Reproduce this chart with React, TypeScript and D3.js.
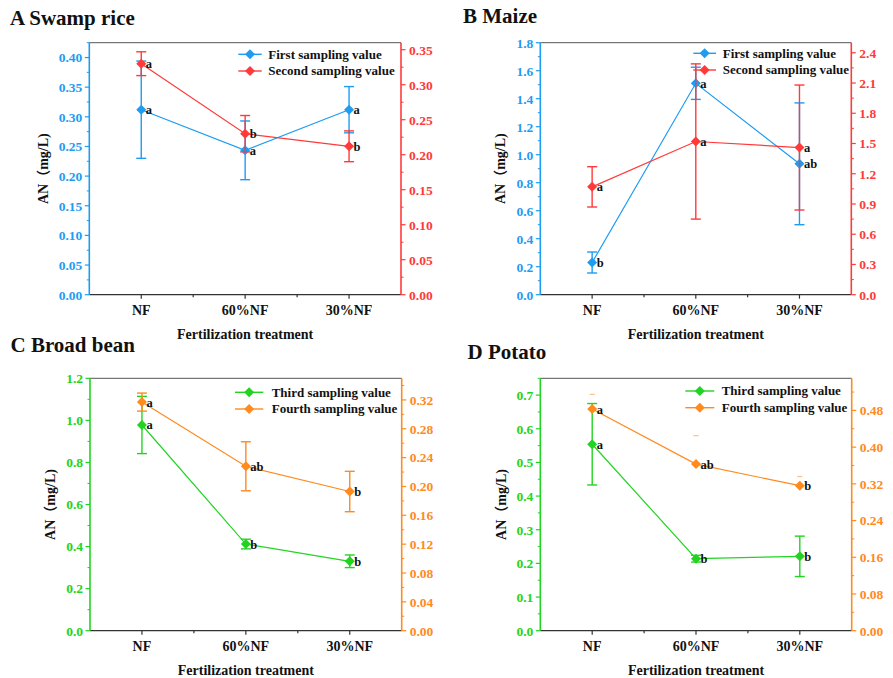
import React from "react";
import * as d3 from "d3";

// Treatments on the x axis
const categories = ["NF", "60%NF", "30%NF"];

// A Swamp rice
const riceFirst = [0.312, 0.2435, 0.312];
const riceFirstErr = [0.082, 0.0495, 0.039];
const riceFirstSig = ["a", "a", "a"];
const riceSecond = [0.33, 0.23, 0.212];
const riceSecondErr = [0.017, 0.026, 0.022];
const riceSecondSig = ["a", "b", "b"];
const riceLeftTicks = [0, 0.05, 0.1, 0.15, 0.2, 0.25, 0.3, 0.35, 0.4];
const riceRightTicks = [0, 0.05, 0.1, 0.15, 0.2, 0.25, 0.3, 0.35];

// B Maize
const maizeFirst = [0.23, 1.51, 0.935];
const maizeFirstErr = [0.075, 0.115, 0.435];
const maizeFirstSig = ["b", "a", "ab"];
const maizeSecond = [1.07, 1.52, 1.46];
const maizeSecondErr = [0.2, 0.77, 0.62];
const maizeSecondSig = ["a", "a", "a"];
const maizeLeftTicks = [0, 0.2, 0.4, 0.6, 0.8, 1.0, 1.2, 1.4, 1.6, 1.8];
const maizeRightTicks = [0, 0.3, 0.6, 0.9, 1.2, 1.5, 1.8, 2.1, 2.4];

// C Broad bean
const beanThird = [0.978, 0.412, 0.33];
const beanThirdErr = [0.136, 0.023, 0.03];
const beanThirdSig = ["a", "b", "b"];
const beanFourth = [0.317, 0.228, 0.193];
const beanFourthErr = [0.0125, 0.034, 0.028];
const beanFourthSig = ["a", "ab", "b"];
const beanLeftTicks = [0, 0.2, 0.4, 0.6, 0.8, 1.0, 1.2];
const beanRightTicks = [0, 0.04, 0.08, 0.12, 0.16, 0.2, 0.24, 0.28, 0.32];

// D Potato
const potatoThird = [0.554, 0.214, 0.221];
const potatoThirdErr = [0.121, 0.01, 0.06];
const potatoThirdSig = ["a", "b", "b"];
const potatoFourth = [0.483, 0.363, 0.316];
const potatoFourthErr = [0.032, 0.062, 0.02];
const potatoFourthSig = ["a", "ab", "b"];
const potatoLeftTicks = [0, 0.1, 0.2, 0.3, 0.4, 0.5, 0.6, 0.7];
const potatoRightTicks = [0, 0.08, 0.16, 0.24, 0.32, 0.4, 0.48];

const FONT = "Liberation Serif, Tinos, Times New Roman, DejaVu Serif, serif";
const CJK = "Noto Sans CJK SC, Noto Sans CJK JP, sans-serif";
const BLUE = "#1E9CF2";
const RED = "#FF3A3A";
const GREEN = "#22D422";
const ORANGE = "#FF8A1E";

type Series = {
  name: string;
  values: number[];
  errs: number[];
  sig: string[];
  color: string;
  axis: "left" | "right";
  capOnly?: boolean;
};

type PanelCfg = {
  title: string;
  titleX: number;
  titleY: number;
  box: { left: number; right: number; top: number; bottom: number };
  leftDomain: number;
  rightDomain: number;
  leftTicks: number[];
  rightTicks: number[];
  leftFmt: string;
  rightFmt: string;
  leftColor: string;
  rightColor: string;
  yLabelX: number;
  legend: { lineX0: number; lineX1: number; textX: number; y0: number; y1: number };
  series: Series[];
};

const diamond = (x: number, y: number, r: number) =>
  `M${x},${y - r}L${x + r},${y}L${x},${y + r}L${x - r},${y}Z`;

function minorTicks(ticks: number[], domainMax: number) {
  const step = ticks[1] - ticks[0];
  const out: number[] = [];
  for (let v = step / 2; v <= domainMax + 1e-9; v += step) {
    const isMajor = ticks.some((t) => Math.abs(t - v) < 1e-9);
    if (!isMajor) out.push(v);
  }
  return out;
}

function Panel({ cfg }: { cfg: PanelCfg }) {
  const { box } = cfg;
  const x = d3.scalePoint<string>().domain(categories).range([box.left, box.right]).padding(0.5);
  const yL = d3.scaleLinear().domain([0, cfg.leftDomain]).range([box.bottom, box.top]);
  const yR = d3.scaleLinear().domain([0, cfg.rightDomain]).range([box.bottom, box.top]);
  const fL = d3.format(cfg.leftFmt);
  const fR = d3.format(cfg.rightFmt);
  const step = x.step();
  const xMinor = categories.slice(0, -1).map((c) => (x(c) as number) + step / 2);
  const cx = (box.left + box.right) / 2;
  const cy = (box.top + box.bottom) / 2;

  const seriesEls = cfg.series.map((s, si) => {
    const y = s.axis === "left" ? yL : yR;
    const pts = s.values.map((v, i) => [x(categories[i]) as number, y(v)] as [number, number]);
    const line = d3.line()(pts) as string;
    return (
      <g key={si}>
        {s.values.map((v, i) => {
          const px = x(categories[i]) as number;
          const hi = y(v + s.errs[i]);
          const lo = y(v - s.errs[i]);
          if (s.capOnly) {
            return (
              <line key={i} x1={px - 2.5} x2={px + 2.5} y1={hi} y2={hi} stroke={s.color} strokeOpacity={0.55} strokeWidth={1.2} />
            );
          }
          return (
            <g key={i} stroke={s.color} strokeWidth={1.4}>
              <line x1={px} x2={px} y1={hi} y2={lo} />
              <line x1={px - 5} x2={px + 5} y1={hi} y2={hi} />
              <line x1={px - 5} x2={px + 5} y1={lo} y2={lo} />
            </g>
          );
        })}
        <path d={line} fill="none" stroke={s.color} strokeWidth={1.2} />
        {pts.map((p, i) => (
          <path key={i} d={diamond(p[0], p[1], 5)} fill={s.color} />
        ))}
      </g>
    );
  });

  const sigEls = cfg.series.map((s, si) => {
    const y = s.axis === "left" ? yL : yR;
    return s.values.map((v, i) => (
      <text
        key={`${si}-${i}`}
        x={(x(categories[i]) as number) + 4.5}
        y={y(v) + 4.5}
        style={{ fontFamily: FONT }}
        fontWeight="bold"
        fontSize={12.5}
        fill="#111"
      >
        {s.sig[i]}
      </text>
    ));
  });

  const legendRows = [cfg.legend.y0, cfg.legend.y1];

  return (
    <g>
      <text x={cfg.titleX} y={cfg.titleY} style={{ fontFamily: FONT }} fontWeight="bold" fontSize={21} fill="#111">
        {cfg.title}
      </text>

      {/* frame */}
      <line x1={box.left} x2={box.right} y1={box.top} y2={box.top} stroke="#555" strokeWidth={1} />
      <line x1={box.left} x2={box.right} y1={box.bottom} y2={box.bottom} stroke="#333" strokeWidth={1.3} />

      {/* bottom axis */}
      {categories.map((c) => (
        <g key={c}>
          <line x1={x(c)} x2={x(c)} y1={box.bottom} y2={box.bottom + 4} stroke="#333" strokeWidth={1.2} />
          <text x={x(c)} y={box.bottom + 20} textAnchor="middle" style={{ fontFamily: FONT }} fontWeight="bold" fontSize={14} fill="#111">
            {c}
          </text>
        </g>
      ))}
      {xMinor.map((mx, i) => (
        <line key={i} x1={mx} x2={mx} y1={box.bottom} y2={box.bottom + 2.5} stroke="#333" strokeWidth={1.2} />
      ))}
      <text x={cx} y={box.bottom + 44} textAnchor="middle" style={{ fontFamily: FONT }} fontWeight="bold" fontSize={14} fill="#111">
        Fertilization treatment
      </text>

      {/* left axis */}
      <line x1={box.left} x2={box.left} y1={box.top} y2={box.bottom} stroke={cfg.leftColor} strokeWidth={1.6} />
      {cfg.leftTicks.map((t) => (
        <g key={t}>
          <line x1={box.left - 4.5} x2={box.left} y1={yL(t)} y2={yL(t)} stroke={cfg.leftColor} strokeWidth={1.2} />
          <text x={box.left - 7} y={yL(t)} dy="0.36em" textAnchor="end" style={{ fontFamily: FONT }} fontWeight="bold" fontSize={13.5} fill={cfg.leftColor}>
            {fL(t)}
          </text>
        </g>
      ))}
      {minorTicks(cfg.leftTicks, cfg.leftDomain).map((t, i) => (
        <line key={i} x1={box.left - 2.5} x2={box.left} y1={yL(t)} y2={yL(t)} stroke={cfg.leftColor} strokeWidth={1} />
      ))}

      {/* right axis */}
      <line x1={box.right} x2={box.right} y1={box.top} y2={box.bottom} stroke={cfg.rightColor} strokeWidth={1.6} />
      {cfg.rightTicks.map((t) => (
        <g key={t}>
          <line x1={box.right} x2={box.right + 4.5} y1={yR(t)} y2={yR(t)} stroke={cfg.rightColor} strokeWidth={1.2} />
          <text x={box.right + 8} y={yR(t)} dy="0.36em" textAnchor="start" style={{ fontFamily: FONT }} fontWeight="bold" fontSize={13.5} fill={cfg.rightColor}>
            {fR(t)}
          </text>
        </g>
      ))}
      {minorTicks(cfg.rightTicks, cfg.rightDomain).map((t, i) => (
        <line key={i} x1={box.right} x2={box.right + 2.5} y1={yR(t)} y2={yR(t)} stroke={cfg.rightColor} strokeWidth={1} />
      ))}

      {/* y axis title */}
      <text
        transform={`translate(${cfg.yLabelX},${cy}) rotate(-90)`}
        textAnchor="middle"
        style={{ fontFamily: FONT }}
        fontWeight="bold"
        fontSize={14}
        fill="#111"
      >
        AN<tspan style={{ fontFamily: CJK }}>（</tspan>mg/L)
      </text>

      {seriesEls}
      {sigEls}

      {/* legend */}
      {cfg.series.map((s, i) => {
        const ly = legendRows[i];
        const mx = (cfg.legend.lineX0 + cfg.legend.lineX1) / 2;
        return (
          <g key={i}>
            <line x1={cfg.legend.lineX0} x2={cfg.legend.lineX1} y1={ly} y2={ly} stroke={s.color} strokeWidth={1.4} />
            <path d={diamond(mx, ly, 5)} fill={s.color} />
            <text x={cfg.legend.textX} y={ly} dy="0.33em" style={{ fontFamily: FONT }} fontWeight="bold" fontSize={13} fill="#111">
              {s.name}
            </text>
          </g>
        );
      })}
    </g>
  );
}

const panels: PanelCfg[] = [
  {
    title: "A Swamp rice",
    titleX: 10,
    titleY: 25,
    box: { left: 89.3, right: 401, top: 42.7, bottom: 294.7 },
    leftDomain: 0.425,
    rightDomain: 0.36,
    leftTicks: riceLeftTicks,
    rightTicks: riceRightTicks,
    leftFmt: ".2f",
    rightFmt: ".2f",
    leftColor: BLUE,
    rightColor: RED,
    yLabelX: 47.5,
    legend: { lineX0: 238.3, lineX1: 261.7, textX: 268.3, y0: 54.3, y1: 71 },
    series: [
      { name: "First sampling value", values: riceFirst, errs: riceFirstErr, sig: riceFirstSig, color: BLUE, axis: "left" },
      { name: "Second sampling value", values: riceSecond, errs: riceSecondErr, sig: riceSecondSig, color: RED, axis: "right" },
    ],
  },
  {
    title: "B Maize",
    titleX: 463,
    titleY: 22.7,
    box: { left: 540.3, right: 851.3, top: 42.7, bottom: 294.7 },
    leftDomain: 1.8,
    rightDomain: 2.5,
    leftTicks: maizeLeftTicks,
    rightTicks: maizeRightTicks,
    leftFmt: ".1f",
    rightFmt: ".1f",
    leftColor: BLUE,
    rightColor: RED,
    yLabelX: 504.5,
    legend: { lineX0: 693.3, lineX1: 716, textX: 722.7, y0: 53.3, y1: 70 },
    series: [
      { name: "First sampling value", values: maizeFirst, errs: maizeFirstErr, sig: maizeFirstSig, color: BLUE, axis: "left" },
      { name: "Second sampling value", values: maizeSecond, errs: maizeSecondErr, sig: maizeSecondSig, color: RED, axis: "right" },
    ],
  },
  {
    title: "C Broad bean",
    titleX: 10.5,
    titleY: 351.5,
    box: { left: 90, right: 401.7, top: 378.3, bottom: 630.7 },
    leftDomain: 1.2,
    rightDomain: 0.35,
    leftTicks: beanLeftTicks,
    rightTicks: beanRightTicks,
    leftFmt: ".1f",
    rightFmt: ".2f",
    leftColor: GREEN,
    rightColor: ORANGE,
    yLabelX: 54.5,
    legend: { lineX0: 235, lineX1: 263.3, textX: 271.7, y0: 392.3, y1: 409 },
    series: [
      { name: "Third sampling value", values: beanThird, errs: beanThirdErr, sig: beanThirdSig, color: GREEN, axis: "left" },
      { name: "Fourth sampling value", values: beanFourth, errs: beanFourthErr, sig: beanFourthSig, color: ORANGE, axis: "right" },
    ],
  },
  {
    title: "D Potato",
    titleX: 467.5,
    titleY: 359,
    box: { left: 540.3, right: 851.7, top: 378.3, bottom: 630.7 },
    leftDomain: 0.75,
    rightDomain: 0.55,
    leftTicks: potatoLeftTicks,
    rightTicks: potatoRightTicks,
    leftFmt: ".1f",
    rightFmt: ".2f",
    leftColor: GREEN,
    rightColor: ORANGE,
    yLabelX: 505.5,
    legend: { lineX0: 685.3, lineX1: 714.3, textX: 721.7, y0: 391, y1: 407.7 },
    series: [
      { name: "Third sampling value", values: potatoThird, errs: potatoThirdErr, sig: potatoThirdSig, color: GREEN, axis: "left" },
      { name: "Fourth sampling value", values: potatoFourth, errs: potatoFourthErr, sig: potatoFourthSig, color: ORANGE, axis: "right", capOnly: true },
    ],
  },
];

export default function App() {
  return (
    <svg
      width={893}
      height={678}
      viewBox="0 0 893 678"
      style={{ position: "absolute", left: 0, top: 0, background: "#fff" }}
    >
      <rect width={893} height={678} fill="#fff" />
      {panels.map((p, i) => (
        <Panel key={i} cfg={p} />
      ))}
    </svg>
  );
}
